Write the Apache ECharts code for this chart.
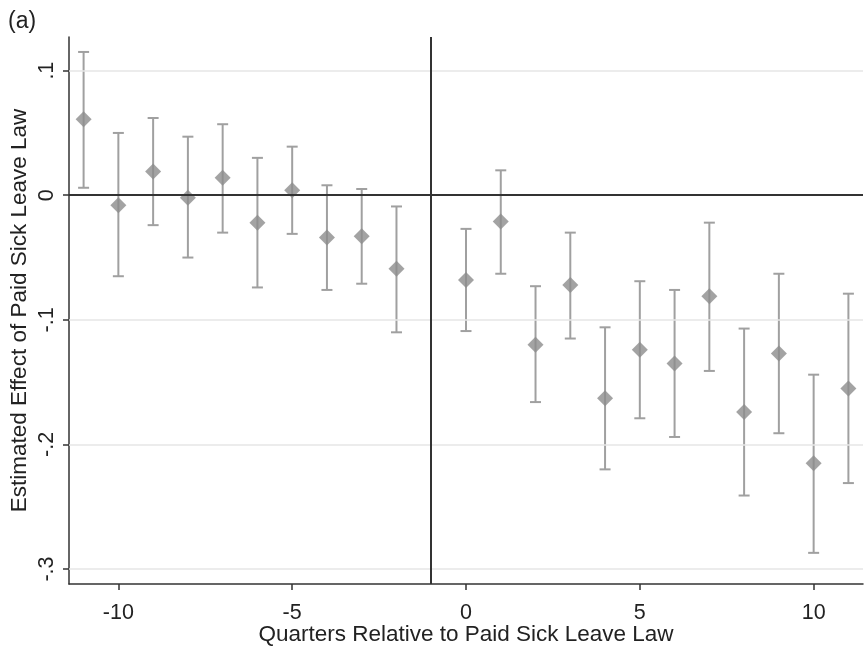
<!DOCTYPE html>
<html>
<head>
<meta charset="utf-8">
<script src="https://cdn.jsdelivr.net/npm/echarts@6/dist/echarts.min.js"></script>
<style>
  html, body { margin: 0; padding: 0; background: #fff; }
  #chart { width: 867px; height: 650px; }
</style>
</head>
<body>
<div id="chart"></div>
<script>
// quarters relative to the law, point estimates and 95% CI bounds
const quarters = [-11, -10, -9, -8, -7, -6, -5, -4, -3, -2, 0, 1, 2, 3, 4, 5, 6, 7, 8, 9, 10, 11];
const estimates = [0.061, -0.008, 0.019, -0.002, 0.014, -0.022, 0.004, -0.034, -0.033, -0.059,
                   -0.068, -0.021, -0.120, -0.072, -0.163, -0.124, -0.135, -0.081, -0.174, -0.127, -0.215, -0.155];
const ciUpper = [0.115, 0.050, 0.062, 0.047, 0.057, 0.030, 0.039, 0.008, 0.005, -0.009,
                 -0.027, 0.020, -0.073, -0.030, -0.106, -0.069, -0.076, -0.022, -0.107, -0.063, -0.144, -0.079];
const ciLower = [0.006, -0.065, -0.024, -0.050, -0.030, -0.074, -0.031, -0.076, -0.071, -0.110,
                 -0.109, -0.063, -0.166, -0.115, -0.220, -0.179, -0.194, -0.141, -0.241, -0.191, -0.287, -0.231];
const xTicks = [-10, -5, 0, 5, 10];
const yTicks = [-0.3, -0.2, -0.1, 0, 0.1];
const lawLine = -1;

const font = 'Liberation Sans, Arial, sans-serif';

let myChart = echarts.init(document.getElementById('chart'));

const ciData = quarters.map((q, i) => [q, ciLower[i], ciUpper[i]]);
const pointData = quarters.map((q, i) => [q, estimates[i]]);

const option = {
    backgroundColor: '#fff',
    animation: false,
    title: {
        text: '(a)',
        left: 3,
        top: 5,
        textStyle: { fontFamily: font, fontSize: 23, fontWeight: 'normal', color: '#222' }
    },
    grid: { left: 69, right: 4, top: 37, bottom: 66, outerBoundsMode: 'none' },
    xAxis: {
        type: 'value',
        min: -11.42,
        max: 11.42,
        name: 'Quarters Relative to Paid Sick Leave Law',
        nameLocation: 'middle',
        nameGap: 39,
        nameMoveOverlap: false,
        nameTextStyle: { fontFamily: font, fontSize: 22.5, color: '#222' },
        axisLine: { show: true, onZero: false, lineStyle: { color: '#333', width: 1.5 } },
        axisTick: { show: true, length: 6, customValues: xTicks, lineStyle: { color: '#333', width: 1.5 } },
        axisLabel: { customValues: xTicks, margin: 18, fontFamily: font, fontSize: 21.5, color: '#222' },
        splitLine: { show: false }
    },
    yAxis: {
        type: 'value',
        min: -0.312,
        max: 0.127,
        name: 'Estimated Effect of Paid Sick Leave Law',
        nameLocation: 'middle',
        nameGap: 38,
        nameMoveOverlap: false,
        nameTextStyle: { fontFamily: font, fontSize: 22.5, color: '#222' },
        axisLine: { show: true, onZero: false, lineStyle: { color: '#333', width: 1.5 } },
        axisTick: { show: true, length: 6, customValues: yTicks, lineStyle: { color: '#333', width: 1.5 } },
        axisLabel: {
            customValues: yTicks,
            rotate: 90,
            margin: 11,
            fontFamily: font,
            fontSize: 21.5,
            color: '#222',
            formatter: v => v === 0 ? '0' : String(Math.round(v * 10) / 10).replace('0.', '.')
        },
        splitLine: { show: false }
    },
    series: [{
        // light gridlines and the two reference lines
        type: 'line',
        data: [],
        silent: true,
        markLine: {
            symbol: 'none',
            silent: true,
            label: { show: false },
            data: yTicks.filter(v => v !== 0).map(v => ({
                yAxis: v, lineStyle: { color: '#e6e6e6', width: 1.5, type: 'solid' }
            })).concat([
                { yAxis: 0, lineStyle: { color: '#333', width: 2, type: 'solid' } },
                { xAxis: lawLine, lineStyle: { color: '#333', width: 2, type: 'solid' } }
            ])
        }
    }, {
        type: 'custom',
        data: ciData,
        z: 3,
        renderItem: function (params, api) {
            const lo = api.coord([api.value(0), api.value(1)]);
            const hi = api.coord([api.value(0), api.value(2)]);
            const half = 5.5;
            const style = { stroke: '#a0a0a0', lineWidth: 2 };
            return {
                type: 'group',
                children: [
                    { type: 'line', shape: { x1: lo[0], y1: lo[1], x2: hi[0], y2: hi[1] }, style: style },
                    { type: 'line', shape: { x1: lo[0] - half, y1: lo[1], x2: lo[0] + half, y2: lo[1] }, style: style },
                    { type: 'line', shape: { x1: hi[0] - half, y1: hi[1], x2: hi[0] + half, y2: hi[1] }, style: style }
                ]
            };
        }
    }, {
        type: 'scatter',
        data: pointData,
        z: 4,
        symbol: 'diamond',
        symbolSize: 16,
        itemStyle: { color: '#8c8c8c' }
    }]
};

myChart.setOption(option);
</script>
</body>
</html>
